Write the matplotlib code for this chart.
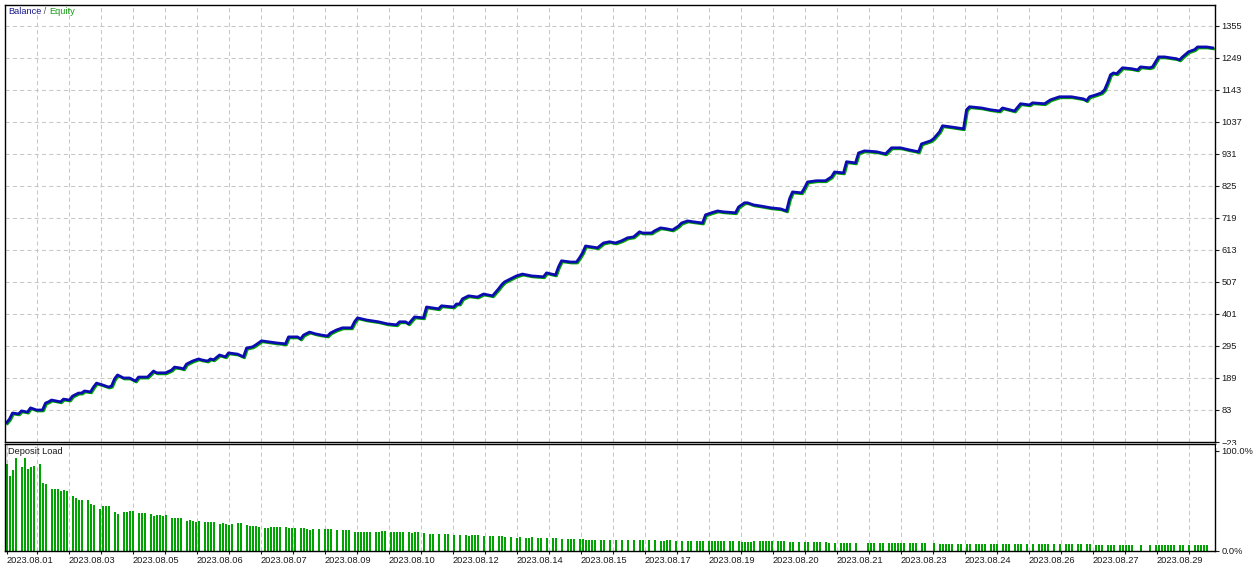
import numpy as np
import matplotlib
matplotlib.use("Agg")
import matplotlib.pyplot as plt
from matplotlib.patches import Rectangle
from matplotlib.transforms import offset_copy

plt.rcParams['font.family'] = 'Liberation Sans'
plt.rcParams['font.size'] = 6.7

# balance curve: deal slot -> balance
deal = [0, 1, 2, 4, 5, 7, 8, 10, 12, 13, 14, 15, 18, 19, 21, 22, 24, 25, 26, 28,
        29, 30, 32, 34, 35, 36, 37, 39, 41, 43, 44, 47, 49, 50, 53, 55, 56, 58, 59, 60,
        62, 64, 65, 67, 68, 69, 71, 73, 74, 77, 79, 80, 82, 83, 85, 88, 90, 93, 94, 97,
        98, 99, 101, 103, 105, 107, 108, 110, 112, 115, 116, 117, 120, 124, 127, 130, 131, 133, 134, 136,
        139, 140, 144, 145, 149, 150, 151, 152, 154, 157, 159, 162, 164, 165, 166, 168, 170, 172, 175, 179,
        180, 183, 184, 185, 188, 190, 191, 192, 193, 195, 197, 199, 201, 203, 205, 207, 209, 211, 212, 215,
        216, 218, 220, 222, 224, 225, 227, 229, 232, 233, 235, 237, 239, 243, 244, 246, 247, 249, 251, 255,
        258, 260, 261, 262, 265, 266, 267, 270, 273, 275, 276, 279, 280, 283, 284, 286, 290, 293, 295, 298,
        301, 304, 305, 308, 309, 311, 312, 315, 319, 320, 321, 325, 328, 331, 332, 336, 338, 341, 342, 346,
        348, 351, 355, 359, 360, 361, 363, 365, 366, 367, 368, 369, 370, 372, 375, 377, 378, 381, 382, 384,
        386, 390, 391, 392, 394, 396, 397, 400, 402]
balance = [41, 53, 73, 70, 80, 76, 90, 83, 83, 106, 110, 116, 110, 119, 116, 129, 139, 139, 146, 143,
           159, 172, 166, 159, 162, 186, 199, 189, 189, 179, 192, 192, 212, 206, 206, 215, 225, 222, 219, 235,
           245, 252, 249, 245, 252, 249, 265, 259, 272, 268, 259, 288, 292, 298, 312, 308, 305, 302, 325, 325,
           318, 331, 341, 335, 331, 328, 338, 348, 355, 355, 375, 388, 381, 375, 368, 365, 375, 375, 368, 391,
           388, 424, 418, 428, 424, 434, 434, 451, 461, 457, 467, 461, 484, 497, 507, 517, 527, 533, 527, 524,
           537, 530, 557, 577, 573, 573, 587, 603, 626, 623, 620, 636, 640, 636, 643, 653, 656, 673, 669, 669,
           676, 686, 683, 679, 692, 702, 709, 706, 702, 729, 736, 742, 739, 736, 755, 769, 769, 762, 759, 752,
           749, 742, 782, 805, 802, 818, 838, 842, 842, 855, 871, 868, 905, 901, 934, 941, 938, 931, 951, 951,
           944, 938, 964, 974, 981, 1004, 1024, 1020, 1014, 1077, 1087, 1083, 1077, 1073, 1083, 1073, 1097, 1093, 1100, 1097,
           1110, 1120, 1120, 1113, 1107, 1120, 1126, 1133, 1143, 1166, 1193, 1199, 1196, 1216, 1213, 1209, 1219, 1216, 1219, 1252,
           1252, 1246, 1242, 1252, 1269, 1276, 1285, 1285, 1282]
equity = balance  # equity stays within a pixel of balance the whole month

# deposit load in % per deal slot (0 = no bar)
load = [87, 75, 81, 93, 0, 84, 93, 82, 84, 85,
        0, 87, 68, 67, 0, 62, 62, 62, 60, 61,
        60, 0, 55, 53, 51, 51, 0, 51, 47, 46,
        0, 42, 45, 45, 45, 0, 39, 37, 0, 39,
        39, 40, 40, 0, 38, 38, 38, 0, 37, 35,
        36, 36, 35, 36, 0, 33, 33, 33, 33, 0,
        30, 31, 30, 29, 30, 0, 29, 29, 29, 29,
        0, 27, 28, 27, 26, 27, 0, 28, 28, 0,
        26, 25, 25, 25, 24, 0, 23, 23, 24, 24,
        24, 24, 0, 24, 23, 23, 23, 0, 23, 23,
        22, 21, 22, 0, 22, 0, 22, 22, 22, 0,
        21, 0, 21, 21, 21, 0, 19, 19, 19, 19,
        19, 19, 0, 19, 19, 20, 20, 0, 19, 19,
        19, 19, 19, 0, 19, 18, 19, 19, 0, 18,
        0, 17, 17, 0, 17, 0, 17, 17, 0, 16,
        0, 16, 0, 16, 15, 16, 16, 16, 0, 15,
        0, 15, 15, 0, 15, 15, 14, 0, 14, 0,
        13, 14, 0, 13, 13, 14, 0, 13, 13, 0,
        13, 0, 13, 13, 0, 12, 0, 12, 12, 12,
        0, 12, 12, 11, 11, 11, 11, 0, 11, 11,
        0, 11, 0, 11, 0, 11, 0, 11, 0, 11,
        0, 11, 11, 0, 11, 0, 11, 0, 10, 10,
        11, 11, 0, 10, 0, 10, 0, 10, 10, 0,
        10, 10, 10, 0, 10, 10, 10, 10, 10, 10,
        0, 10, 10, 0, 10, 9, 9, 9, 9, 10,
        0, 10, 10, 10, 10, 10, 0, 10, 10, 10,
        0, 9, 9, 0, 9, 0, 9, 9, 0, 9,
        9, 9, 0, 9, 8, 0, 8, 0, 8, 8,
        8, 8, 0, 8, 0, 0, 0, 8, 8, 8,
        0, 8, 8, 0, 8, 8, 8, 8, 8, 8,
        0, 8, 8, 8, 0, 8, 8, 0, 0, 8,
        0, 7, 7, 7, 7, 7, 0, 7, 7, 0,
        7, 7, 0, 7, 7, 7, 7, 0, 7, 7,
        7, 0, 7, 7, 7, 0, 7, 7, 7, 0,
        7, 0, 7, 0, 7, 7, 7, 7, 0, 7,
        0, 7, 0, 7, 7, 7, 0, 7, 7, 0,
        7, 7, 0, 6, 6, 6, 0, 6, 6, 6,
        0, 6, 6, 6, 6, 6, 0, 0, 6, 0,
        0, 6, 0, 6, 6, 6, 6, 6, 6, 6,
        0, 6, 6, 0, 6, 0, 6, 6, 6, 6,
        6, 0, 0]

y_ticks = [-23, 83, 189, 295, 401, 507, 613, 719, 825, 931, 1037, 1143, 1249, 1355]
date_labels = ['2023.08.01', '2023.08.03', '2023.08.05', '2023.08.06', '2023.08.07',
               '2023.08.09', '2023.08.10', '2023.08.12', '2023.08.14', '2023.08.15',
               '2023.08.17', '2023.08.19', '2023.08.20', '2023.08.21', '2023.08.23',
               '2023.08.24', '2023.08.26', '2023.08.27', '2023.08.29']

W, H = 1260, 568
fig = plt.figure(figsize=(W / 100, H / 100), dpi=100)


def px_box(l, t, r, b):
    return [l / W, 1 - b / H, (r - l) / W, (b - t) / H]


ax = fig.add_axes(px_box(5, 4.5, 1215, 442))
ax2 = fig.add_axes(px_box(5, 444, 1215, 551))

blue = '#0c0cb0'
green = '#00a400'
txt = '#1a1a1a'
grid_kw = dict(color='#c8c8c8', linestyle=(0, (4, 3)), linewidth=0.75)
grid_x = 10.1667 + np.arange(37) * 32 / 3

for a in (ax, ax2):
    a.set_xlim(-0.5, 402.83)
    for s in a.spines.values():
        s.set_linewidth(1.0)
        s.set_color('black')
    a.yaxis.tick_right()
    a.tick_params(axis='y', direction='out', length=3, width=0.8, pad=1.5, colors=txt)

# balance / equity
ax.set_ylim(-23, 1425.5)
ax.plot(deal, equity, color=green, lw=2.0,
        transform=offset_copy(ax.transData, fig=fig, x=1, y=-1, units='dots'))
ax.plot(deal, balance, color=blue, lw=2.0)
ax.set_yticks(y_ticks)
ax.set_xticks(grid_x)
ax.tick_params(axis='x', length=0, labelbottom=False)
ax.grid(True, **grid_kw)
ax.set_axisbelow(True)

# deposit load, one 2 px column per deal slot
slots = np.arange(len(load))
ax2.vlines(slots, 0, load, colors=green, linewidth=1.44, antialiased=False, zorder=2)
ax2.set_ylim(0, 107)
ax2.set_yticks([0, 100])
ax2.set_yticklabels(['0.0%', '100.0%'])
tick_pos = [0.17] + list(grid_x)
tick_lab = [date_labels[0]] + [date_labels[(k + 1) // 2] if k % 2 == 1 else '' for k in range(37)]
ax2.set_xticks(tick_pos)
ax2.set_xticklabels(tick_lab, ha='left')
ax2.tick_params(axis='x', direction='out', length=2.5, width=0.8, pad=0.8, colors=txt)
ax2.grid(True, axis='x', **grid_kw)
ax2.set_axisbelow(True)

# titles
t1 = fig.text(8 / W, 1 - 12 / H, 'Balance', color='#1c1c8c', va='center')
t2 = ax.annotate(' / ', xy=(1, 0), xycoords=t1, va='bottom', color='#555555', annotation_clip=False)
ax.annotate('Equity', xy=(1, 0), xycoords=t2, va='bottom', color='#1a9e1a', annotation_clip=False)
fig.text(8 / W, 1 - 452 / H, 'Deposit Load', color=txt, va='center')

# lower part of the "-23" label is hidden behind the load panel
fig.add_artist(Rectangle((1216 / W, 1 - 447.5 / H), 44 / W, 3 / H, transform=fig.transFigure,
                         facecolor='white', edgecolor='none', zorder=5))

fig.savefig('out.png', dpi=100)
